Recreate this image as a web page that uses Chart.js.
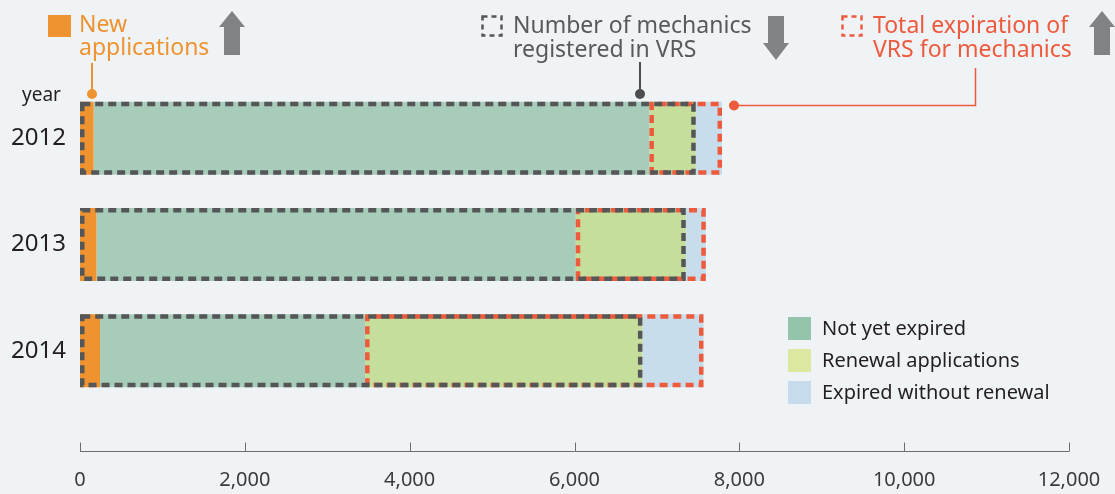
<!DOCTYPE html>
<html>
<head>
<meta charset="utf-8">
<title>VRS mechanics registrations 2012–2014</title>
<script src="https://cdn.jsdelivr.net/npm/chart.js@4/dist/chart.umd.min.js"></script>
<style>
  html, body { margin: 0; padding: 0; background: #eff3f6; }
  #wrap { position: relative; width: 1115px; height: 494px; }
</style>
</head>
<body>
<div id="wrap"><canvas id="c" width="1115" height="494"></canvas></div>
<script>
// Data
const years = ['2012', '2013', '2014'];
const newApplications = [165, 200, 243];
const notYetExpired = [6744, 5815, 3216];
const renewalApplications = [562, 1335, 3365];
const expiredWithoutRenewal = [319, 243, 741];
const xTickValues = [0, 2000, 4000, 6000, 8000, 10000, 12000];

const seriesLabels = ['New applications', 'Not yet expired', 'Renewal applications', 'Expired without renewal'];
const barColors = ['#ef9331', '#a7cdba', '#c5de9b', '#c7ddec'];
const legendColors = ['#ef9331', '#94c5aa', '#dce89f', '#c6dcec'];

const ORANGE = '#ef9331';
const GRAY_TEXT = '#58595b';
const RED = '#ee5a3c';
const DASH_GRAY = '#545658';
const ARROW_GRAY = '#808285';
const INK = '#231f20';
const FONT = "'Noto Sans', 'Open Sans', sans-serif";

function dashedRect(ctx, x1, x2, top, bottom, color, offset) {
  const lw = 4.5, h = lw / 2;
  ctx.save();
  ctx.strokeStyle = color;
  ctx.lineWidth = lw;
  ctx.setLineDash([8, 5]);
  ctx.lineDashOffset = offset || 0;
  ctx.strokeRect(x1 + h, top + h, (x2 - x1) - lw, (bottom - top) - lw);
  ctx.restore();
}

// Outlines: registered mechanics (gray) and total expirations (red)
const outlinePlugin = {
  id: 'outlines',
  afterDatasetsDraw(chart) {
    const ctx = chart.ctx;
    const xs = chart.scales.x;
    const meta = chart.getDatasetMeta(0);
    years.forEach((_, i) => {
      const { y, height } = meta.data[i].getProps(['y', 'height'], true);
      const top = y - height / 2, bottom = y + height / 2;
      const a = newApplications[i];
      const b = a + notYetExpired[i];
      const c = b + renewalApplications[i];
      const d = c + expiredWithoutRenewal[i];
      dashedRect(ctx, xs.getPixelForValue(b), xs.getPixelForValue(d), top, bottom, RED, 6);
      dashedRect(ctx, xs.getPixelForValue(0), xs.getPixelForValue(c), top, bottom, DASH_GRAY, 0);
    });
  }
};

function upArrow(ctx, x, top, bottom) {
  ctx.beginPath();
  ctx.moveTo(x + 13, top);
  ctx.lineTo(x + 26, top + 16);
  ctx.lineTo(x + 21, top + 16);
  ctx.lineTo(x + 21, bottom);
  ctx.lineTo(x + 5, bottom);
  ctx.lineTo(x + 5, top + 16);
  ctx.lineTo(x, top + 16);
  ctx.closePath();
  ctx.fill();
}
function downArrow(ctx, x, top, bottom) {
  ctx.beginPath();
  ctx.moveTo(x + 5, top);
  ctx.lineTo(x + 21, top);
  ctx.lineTo(x + 21, bottom - 17);
  ctx.lineTo(x + 26, bottom - 17);
  ctx.lineTo(x + 13, bottom);
  ctx.lineTo(x, bottom - 17);
  ctx.lineTo(x + 5, bottom - 17);
  ctx.closePath();
  ctx.fill();
}
function dot(ctx, x, y, r, color) {
  ctx.beginPath();
  ctx.arc(x, y, r, 0, Math.PI * 2);
  ctx.fillStyle = color;
  ctx.fill();
}

// Axis line, header keys, leader lines and legend
const decorPlugin = {
  id: 'decor',
  afterDraw(chart) {
    const ctx = chart.ctx;
    const xs = chart.scales.x;
    ctx.save();

    // x axis line with tick marks
    const axisY = 451.5;
    ctx.strokeStyle = '#6d6e70';
    ctx.lineWidth = 1;
    ctx.beginPath();
    ctx.moveTo(xs.getPixelForValue(xTickValues[0]), axisY);
    ctx.lineTo(xs.getPixelForValue(xTickValues[xTickValues.length - 1]), axisY);
    xTickValues.forEach(v => {
      const px = Math.round(xs.getPixelForValue(v)) + 0.5;
      ctx.moveTo(px, axisY);
      ctx.lineTo(px, axisY - 9);
    });
    ctx.stroke();

    // "year" caption
    ctx.fillStyle = INK;
    ctx.font = '19px ' + FONT;
    ctx.textBaseline = 'alphabetic';
    ctx.textAlign = 'left';
    ctx.fillText('year', 22, 101);

    // Key: New applications
    ctx.fillStyle = ORANGE;
    ctx.fillRect(48, 15, 23, 22);
    ctx.font = '23px ' + FONT;
    ctx.fillText('New', 79, 32);
    ctx.fillText('applications', 79, 55);
    ctx.strokeStyle = ORANGE;
    ctx.lineWidth = 2;
    ctx.beginPath();
    ctx.moveTo(92, 63);
    ctx.lineTo(92, 94);
    ctx.stroke();
    dot(ctx, 92, 94, 5, ORANGE);

    ctx.fillStyle = ARROW_GRAY;
    upArrow(ctx, 219, 11, 55);

    // Key: Number of mechanics registered in VRS
    ctx.save();
    ctx.strokeStyle = DASH_GRAY;
    ctx.lineWidth = 2.5;
    ctx.setLineDash([5, 4]);
    ctx.strokeRect(482.5, 16.5, 19, 19);
    ctx.restore();
    ctx.fillStyle = GRAY_TEXT;
    ctx.font = '23px ' + FONT;
    ctx.fillText('Number of mechanics', 513, 33);
    ctx.fillText('registered in VRS', 513, 57);
    ctx.strokeStyle = '#4d4d4f';
    ctx.lineWidth = 2;
    ctx.beginPath();
    ctx.moveTo(640, 62);
    ctx.lineTo(640, 94);
    ctx.stroke();
    dot(ctx, 640, 94, 5, '#4d4d4f');

    ctx.fillStyle = ARROW_GRAY;
    downArrow(ctx, 763, 16, 60);

    // Key: Total expiration of VRS for mechanics
    ctx.save();
    ctx.strokeStyle = RED;
    ctx.lineWidth = 2.5;
    ctx.setLineDash([5, 4]);
    ctx.strokeRect(842.5, 16.5, 19, 19);
    ctx.restore();
    ctx.fillStyle = RED;
    ctx.font = '23px ' + FONT;
    ctx.fillText('Total expiration of', 873, 33);
    ctx.fillText('VRS for mechanics', 873, 57);
    ctx.strokeStyle = RED;
    ctx.lineWidth = 1.5;
    ctx.beginPath();
    ctx.moveTo(734, 105.5);
    ctx.lineTo(975.5, 105.5);
    ctx.lineTo(975.5, 68);
    ctx.stroke();
    dot(ctx, 734, 105.5, 5, RED);

    ctx.fillStyle = ARROW_GRAY;
    upArrow(ctx, 1089, 11, 55);

    // Legend for the three status segments
    const legendRows = [1, 2, 3];
    legendRows.forEach((k, r) => {
      const top = 317 + r * 32;
      ctx.fillStyle = legendColors[k];
      ctx.fillRect(788, top, 23, 23);
      ctx.fillStyle = INK;
      ctx.font = '20px ' + FONT;
      ctx.fillText(seriesLabels[k], 822, top + 18);
    });

    ctx.restore();
  }
};

new Chart(document.getElementById('c'), {
  type: 'bar',
  data: {
    labels: years,
    datasets: [
      { label: seriesLabels[0], data: newApplications, backgroundColor: barColors[0] },
      { label: seriesLabels[1], data: notYetExpired, backgroundColor: barColors[1] },
      { label: seriesLabels[2], data: renewalApplications, backgroundColor: barColors[2] },
      { label: seriesLabels[3], data: expiredWithoutRenewal, backgroundColor: barColors[3] }
    ]
  },
  options: {
    indexAxis: 'y',
    responsive: false,
    animation: false,
    events: [],
    layout: { padding: { top: 85, right: 46, bottom: 0, left: 0 } },
    datasets: {
      bar: { barPercentage: 0.686, categoryPercentage: 1, borderWidth: 0 }
    },
    plugins: {
      legend: { display: false },
      tooltip: { enabled: false }
    },
    scales: {
      x: {
        type: 'linear',
        stacked: true,
        min: 0,
        max: 12000,
        afterBuildTicks: s => { s.ticks = xTickValues.map(v => ({ value: v })); },
        afterFit: s => { s.height = 90; s.paddingLeft = 0; s.paddingRight = 0; },
        grid: { display: false, drawTicks: false },
        border: { display: false },
        ticks: {
          padding: 64,
          color: '#3b3b3d',
          font: { family: FONT, size: 20 },
          callback: v => v.toLocaleString('en-US')
        }
      },
      y: {
        stacked: true,
        afterFit: s => { s.width = 80; },
        grid: { display: false, drawTicks: false },
        border: { display: false },
        ticks: {
          padding: 14,
          color: INK,
          font: { family: FONT, size: 24 }
        }
      }
    }
  },
  plugins: [outlinePlugin, decorPlugin]
});
</script>
</body>
</html>
